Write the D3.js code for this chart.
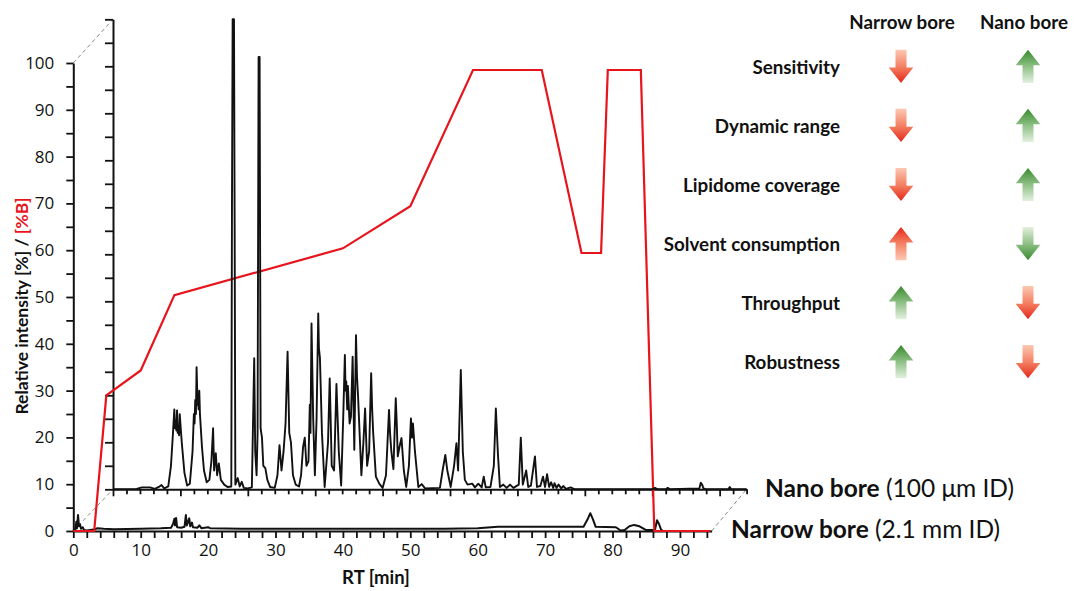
<!DOCTYPE html>
<html><head><meta charset="utf-8">
<script src="https://cdn.jsdelivr.net/npm/d3@7"></script>
<style>body{margin:0;background:#fff;} svg{display:block}</style>
</head><body>
<svg id="c" width="1074" height="591"></svg>
<script>
// ---------------- data ----------------
const xTickValues = [0,2,4,6,8,10,12,14,16,18,20,22,24,26,28,30,32,34,36,38,40,42,44,46,48,50,52,54,56,58,60,62,64,66,68,70,72,74,76,78,80,82,84,86,88,90,92,94];
const xTickLabels = [0,10,20,30,40,50,60,70,80,90];
const yTickValues = [0,5,10,15,20,25,30,35,40,45,50,55,60,65,70,75,80,85,90,95,100];
const yTickLabels = [0,10,20,30,40,50,60,70,80,90,100];

// %B gradient (red line), outer axes
const gradTime = [0, 3.1, 4.9, 10, 15, 40, 50, 59.3, 69.5, 75.4, 78.3, 79.3, 84.2, 86.2, 94.5];
const gradB    = [0, 0, 29, 34.3, 50.4, 60.4, 69.4, 98.5, 98.5, 59.4, 59.4, 98.5, 98.5, 0, 0];

// Narrow bore chromatogram (outer axes) [RT, rel. intensity]
const narrowTrace = [[0,0],[0.3,0.3],[0.45,2],[0.55,0.6],[0.7,3.4],[0.85,1],[1.0,1.4],[1.15,0.5],[1.4,0.8],[1.6,0.2],[2.0,0.1],[3.0,0.3],[3.6,0.6],[4.5,0.5],[6,0.4],[10,0.5],[13,0.6],[14.5,0.7],[14.8,1.5],[15.0,2.6],[15.1,1.2],[15.25,2.8],[15.4,0.8],[16.0,0.7],[16.5,0.9],[16.7,3.4],[16.85,1.2],[17.2,2.7],[17.35,1],[17.6,1.8],[17.75,0.8],[18.4,0.7],[18.7,1.2],[19.0,0.6],[20.0,0.8],[20.3,0.6],[25,0.5],[40,0.5],[55,0.5],[60,0.6],[63,0.9],[70,0.9],[75.7,0.9],[76.3,2.5],[76.7,3.8],[77.1,2.5],[77.5,0.9],[80.5,0.8],[81.2,0.1],[81.8,0.2],[82.5,1],[83.2,1.3],[84.0,1.0],[85.0,0.2],[86.3,0.2],[86.6,2.3],[86.9,1.5],[87.2,0.3],[87.5,0],[94.5,0]];

// Nano bore chromatogram (inset axes) [RT, rel. intensity]
const nanoTrace = [[0,0],[3.5,0.1],[4.3,0.4],[5.5,0.4],[6.2,0.1],[6.8,0.5],[7.2,0.9],[7.6,0.2],[8.2,0.6],[8.6,5],[8.9,12],[9.1,17],[9.2,13],[9.3,14.5],[9.4,12.5],[9.5,16.8],[9.6,12],[9.7,13.5],[9.8,11.5],[9.9,16],[10.2,10],[10.6,3.5],[11.0,0.8],[11.4,1.2],[11.8,8],[12.0,16],[12.1,14],[12.2,19],[12.3,16],[12.4,26],[12.55,18],[12.6,20],[12.7,17],[12.8,21],[12.9,16],[13.2,9],[13.5,4],[13.9,1.5],[14.3,2],[14.6,6],[14.85,13],[15.0,4],[15.25,7.7],[15.45,3],[15.7,5.5],[16.0,2],[16.5,1],[17.0,0.5],[17.55,0.6],[17.65,60],[17.75,100],[17.95,100],[18.05,55],[18.15,1],[18.5,2.4],[18.8,0.6],[19.1,1.6],[19.4,0.3],[20.0,0.2],[20.6,0.4],[20.85,20],[20.95,27.9],[21.1,8],[21.3,3],[21.45,12],[21.6,92],[21.75,92],[21.9,13],[22.1,11],[22.3,5],[22.6,4.5],[22.9,2],[23.3,0.5],[24.0,0.3],[24.4,3],[24.7,9.4],[25.0,4],[25.3,8],[25.6,14],[25.9,29.3],[26.15,12],[26.4,10],[26.7,3],[27.1,1],[27.6,0.6],[27.9,3],[28.2,9],[28.45,11],[28.7,5],[29.0,6],[29.2,18],[29.3,12],[29.45,35.3],[29.7,15],[29.95,3],[30.2,15],[30.3,24],[30.45,37.4],[30.55,30],[30.7,28],[31.0,12],[31.4,0.5],[31.9,10],[32.15,23.6],[32.45,5],[32.8,4],[33.15,22.4],[33.5,8],[33.85,0.8],[34.15,15],[34.4,28.6],[34.5,21],[34.6,23],[34.75,17],[34.85,22],[35.1,14],[35.3,15.4],[35.55,28.2],[35.8,8.4],[36.05,32.8],[36.2,24],[36.35,20],[36.85,3],[37.15,10],[37.4,17.2],[37.7,5],[38.0,8],[38.3,24.7],[38.45,17],[38.6,12],[39.0,2.7],[39.5,1.2],[40.0,0.3],[40.5,3],[40.95,16.9],[41.1,12],[41.3,8],[41.6,4.3],[41.95,19.4],[42.1,14],[42.25,7],[42.5,9],[42.8,10.9],[43.15,4],[43.5,0.5],[43.9,5],[44.2,15.1],[44.35,11],[44.5,14],[44.8,8],[45.3,0.5],[45.8,1.1],[46.3,0.2],[48.5,0.3],[48.9,4],[49.3,7.3],[49.6,4],[50.1,0.5],[50.6,5],[50.95,9.8],[51.2,4],[51.6,25.4],[51.9,8],[52.2,2],[52.6,1],[53.3,1.2],[53.7,0.4],[54.2,1.2],[54.7,0.4],[55.0,2.7],[55.3,0.4],[56.0,0.5],[56.5,5],[56.8,17.2],[57.1,7.7],[57.4,0.5],[57.9,1],[58.4,0.3],[58.9,1],[59.4,0.3],[60.2,1],[60.5,11],[60.8,1],[61.3,4],[61.6,0.5],[62.0,0.8],[62.6,7],[62.9,0.5],[63.4,0.7],[63.8,2.7],[64.1,0.5],[64.4,3.2],[64.7,0.5],[65.0,1.5],[65.3,0.3],[65.5,1.3],[65.8,0.3],[66.1,1],[66.5,0.2],[66.8,0.7],[67.2,0.1],[67.9,0.4],[68.5,0],[80.0,0],[80.4,0.3],[80.8,0],[82.0,0],[82.3,0.3],[82.6,0],[87.0,0.2],[87.2,1.4],[87.4,1.0],[87.6,0.2],[88.0,0],[91.3,0],[91.5,0.5],[91.7,0],[94,0]];

// Comparison table
const criteria = ["Sensitivity","Dynamic range","Lipidome coverage","Solvent consumption","Throughput","Robustness"];
const columns = ["Narrow bore","Nano bore"];
const narrowDir = ["down","down","down","up","up","up"];
const narrowCol = ["red","red","red","red","green","green"];
const nanoDir   = ["up","up","up","down","down","down"];
const nanoCol   = ["green","green","green","green","red","red"];

// ---------------- drawing ----------------
const svg = d3.select("#c");
const FONT = "Lato, 'Open Sans', sans-serif";

const xOut = d3.scaleLinear().domain([0, 94.7]).range([73.3, 711.6]);
const yOut = d3.scaleLinear().domain([0, 100]).range([531, 63]);
const xIn  = d3.scaleLinear().domain([0, 94]).range([113, 746.6]);
const yIn  = d3.scaleLinear().domain([0, 100]).range([489.3, 19.3]);

// gradients for arrows
const defs = svg.append("defs");
function grad(id, light, mid, dark, darkAtTop) {
  const g = defs.append("linearGradient").attr("id", id).attr("x1",0).attr("y1",0).attr("x2",0).attr("y2",1);
  const stops = darkAtTop ? [[0,dark],[0.45,mid],[1,light]] : [[0,light],[0.55,mid],[1,dark]];
  stops.forEach(s => g.append("stop").attr("offset", s[0]).attr("stop-color", s[1]));
}
grad("red-down", "#fcc8b2", "#f37a5c", "#e4261a", false);
grad("red-up", "#fcc8b2", "#f37a5c", "#e4261a", true);
grad("green-down", "#e3f0df", "#86bb7d", "#378a2c", false);
grad("green-up", "#e3f0df", "#86bb7d", "#378a2c", true);

// dashed connector lines
const dash = svg.append("g").attr("stroke", "#8a8a8a").attr("stroke-width", 1).attr("stroke-dasharray", "4,3").attr("fill","none");
dash.append("line").attr("x1", xOut(0)).attr("y1", yOut(100)).attr("x2", xIn(0)).attr("y2", yIn(100));
dash.append("line").attr("x1", xOut(0)).attr("y1", yOut(0)).attr("x2", xIn(0)).attr("y2", yIn(0));
dash.append("line").attr("x1", xOut(94.7)).attr("y1", yOut(0)).attr("x2", xIn(94)).attr("y2", yIn(0));

// outer axes
const gxOut = svg.append("g").attr("transform", `translate(0,${yOut(0)})`)
  .call(d3.axisBottom(xOut).tickValues(xTickValues).tickSize(7).tickSizeOuter(0).tickPadding(6)
    .tickFormat(d => xTickLabels.includes(d) ? d : ""));
const gyOut = svg.append("g").attr("transform", `translate(${xOut(0)},0)`)
  .call(d3.axisLeft(yOut).tickValues(yTickValues).tickSize(7).tickSizeOuter(0).tickPadding(12)
    .tickFormat(d => yTickLabels.includes(d) ? d : ""));

// inset axes
const gxIn = svg.append("g").attr("transform", `translate(0,${yIn(0)})`)
  .call(d3.axisBottom(xIn).tickValues(xTickValues).tickSize(5).tickSizeOuter(0).tickFormat(""));
gxIn.selectAll(".tick line").attr("y2", d => xTickLabels.includes(d) ? 7 : 5);
const gyIn = svg.append("g").attr("transform", `translate(${xIn(0)},0)`)
  .call(d3.axisLeft(yIn).tickValues(yTickValues).tickSize(8).tickSizeOuter(0).tickFormat(""));

[gxOut, gyOut, gxIn, gyIn].forEach(g => {
  g.attr("font-size", null).attr("font-family", null);
  g.select(".domain").attr("stroke", "#111").attr("stroke-width", 2);
  g.selectAll(".tick line").attr("stroke", "#111").attr("stroke-width", 1.8);
  g.selectAll(".tick text").attr("fill", "#111")
    .attr("font-family", "'Open Sans', sans-serif").attr("font-size", 17);
});

// narrow bore trace
const lineOut = d3.line().x(d => xOut(d[0])).y(d => yOut(d[1]));
svg.append("path").datum(narrowTrace).attr("d", lineOut).attr("fill", "none")
  .attr("stroke", "#111").attr("stroke-width", 2).attr("stroke-linejoin", "round");

// %B gradient
const gradData = gradTime.map((t, i) => [t, gradB[i]]);
svg.append("path").datum(gradData).attr("d", lineOut).attr("fill", "none")
  .attr("stroke", "#e8141c").attr("stroke-width", 2.2).attr("stroke-linejoin", "miter");

// nano bore trace
const lineIn = d3.line().x(d => xIn(d[0])).y(d => yIn(d[1]));
svg.append("path").datum(nanoTrace).attr("d", lineIn).attr("fill", "none")
  .attr("stroke", "#111").attr("stroke-width", 1.9).attr("stroke-linejoin", "round");

// axis titles
svg.append("text").attr("transform", "translate(28,306) rotate(-90)").attr("text-anchor", "middle")
  .style("font-family", FONT).style("font-weight", 700).style("font-size", "17.5px")
  .call(t => { t.append("tspan").attr("fill", "#111").text("Relative intensity [%] / ");
               t.append("tspan").attr("fill", "#e8141c").text("[%B]"); });
svg.append("text").attr("x", 376).attr("y", 584).attr("text-anchor", "middle")
  .style("font-family", FONT).style("font-weight", 700).style("font-size", "18.5px").attr("fill", "#111")
  .text("RT [min]");

// trace labels
function boreLabel(x, y, bold, rest) {
  const t = svg.append("text").attr("x", x).attr("y", y).style("font-family", FONT).style("font-size", "24.5px").attr("fill", "#111");
  t.append("tspan").style("font-weight", 700).text(bold);
  t.append("tspan").style("font-weight", 400).text(" " + rest);
}
boreLabel(765, 497, "Nano bore", "(100 μm ID)");
boreLabel(731, 538, "Narrow bore", "(2.1 mm ID)");

// comparison table
const colX = d3.scalePoint().domain(columns).range([901, 1028]);
const rowY = d3.scalePoint().domain(criteria).range([74, 369.3]);
const table = svg.append("g").style("font-family", FONT).style("font-weight", 700).style("font-size", "18.8px").attr("fill", "#111");
table.selectAll("text.hdr").data(columns).join("text").attr("class","hdr")
  .attr("x", (d, i) => i === 0 ? 902 : 1024).attr("y", 29.3).attr("text-anchor", "middle").text(d => d);
table.selectAll("text.row").data(criteria).join("text").attr("class","row")
  .attr("x", 840).attr("y", d => rowY(d)).attr("text-anchor", "end").text(d => d);

function arrowPath(dir) {
  // centred at 0,0 ; total height 33
  const sw = 5.5, hw = 12.3, top = -16.6, bot = 16.6, neck = 1.2;
  if (dir === "down") {
    return `M${-sw},${top} L${sw},${top} L${sw},${neck} L${hw},${neck} L0,${bot} L${-hw},${neck} L${-sw},${neck} Z`;
  }
  return `M${-sw},${bot} L${sw},${bot} L${sw},${-neck} L${hw},${-neck} L0,${top} L${-hw},${-neck} L${-sw},${-neck} Z`;
}
const arrows = [];
criteria.forEach((c, i) => {
  arrows.push({col: columns[0], row: c, dir: narrowDir[i], color: narrowCol[i]});
  arrows.push({col: columns[1], row: c, dir: nanoDir[i], color: nanoCol[i]});
});
svg.append("g").selectAll("path").data(arrows).join("path")
  .attr("transform", d => `translate(${colX(d.col)},${rowY(d.row) - 7.6})`)
  .attr("d", d => arrowPath(d.dir))
  .attr("fill", d => `url(#${d.color}-${d.dir})`);
</script>
</body></html>
